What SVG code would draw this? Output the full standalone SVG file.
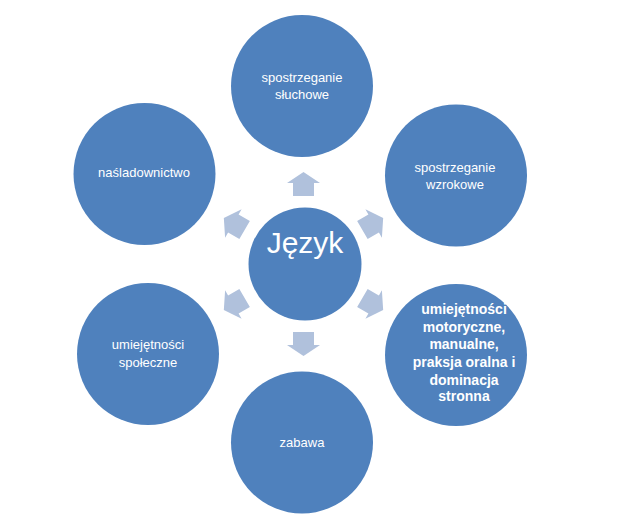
<svg xmlns="http://www.w3.org/2000/svg" width="627" height="525" viewBox="0 0 627 525">
<style>
.n{fill:#4F81BD}
.t{font-family:"Liberation Sans",Arial,sans-serif;font-size:13px;fill:#FFFFFF;text-anchor:middle}
.b{font-weight:bold;font-size:14px}
.c{font-size:30px}
.a{fill:#B0C1DC}
</style>
<defs>
<path id="arr" d="M0,-12 L16.5,-1 L10.5,-1 L10.5,12 L-10.5,12 L-10.5,-1 L-16.5,-1 Z"/>
</defs>
<rect width="627" height="525" fill="#FFFFFF"/>
<g id="connectors">
<use href="#arr" class="a" transform="translate(303.5,264) rotate(0) translate(0,-80)"/>
<use href="#arr" class="a" transform="translate(303.5,264) rotate(60) translate(0,-80)"/>
<use href="#arr" class="a" transform="translate(303.5,264) rotate(120) translate(0,-80)"/>
<use href="#arr" class="a" transform="translate(303.5,264) rotate(180) translate(0,-80)"/>
<use href="#arr" class="a" transform="translate(303.5,264) rotate(240) translate(0,-80)"/>
<use href="#arr" class="a" transform="translate(303.5,264) rotate(300) translate(0,-80)"/>
</g>
<g id="center">
<circle class="n" cx="305" cy="264" r="56.5"/>
<text class="t c" x="305" y="253">Język</text>
</g>
<g id="top">
<circle class="n" cx="302" cy="86" r="71"/>
<text class="t" x="302" y="82">spostrzeganie</text>
<text class="t" x="302" y="99">słuchowe</text>
</g>
<g id="top-right">
<circle class="n" cx="456" cy="175.5" r="71"/>
<text class="t" x="455" y="172">spostrzeganie</text>
<text class="t" x="455" y="189">wzrokowe</text>
</g>
<g id="bottom-right">
<circle class="n" cx="456" cy="355" r="71"/>
<text class="t b" x="464" y="314">umiejętności</text>
<text class="t b" x="464" y="332">motoryczne,</text>
<text class="t b" x="464" y="349">manualne,</text>
<text class="t b" x="464" y="367">praksja oralna i</text>
<text class="t b" x="464" y="385">dominacja</text>
<text class="t b" x="464" y="401">stronna</text>
</g>
<g id="bottom">
<circle class="n" cx="302" cy="442.5" r="71"/>
<text class="t" x="302" y="447">zabawa</text>
</g>
<g id="bottom-left">
<circle class="n" cx="148" cy="354" r="71"/>
<text class="t" x="148" y="349">umiejętności</text>
<text class="t" x="148" y="367">społeczne</text>
</g>
<g id="top-left">
<circle class="n" cx="144.5" cy="174" r="71"/>
<text class="t" x="144" y="177">naśladownictwo</text>
</g>
</svg>
